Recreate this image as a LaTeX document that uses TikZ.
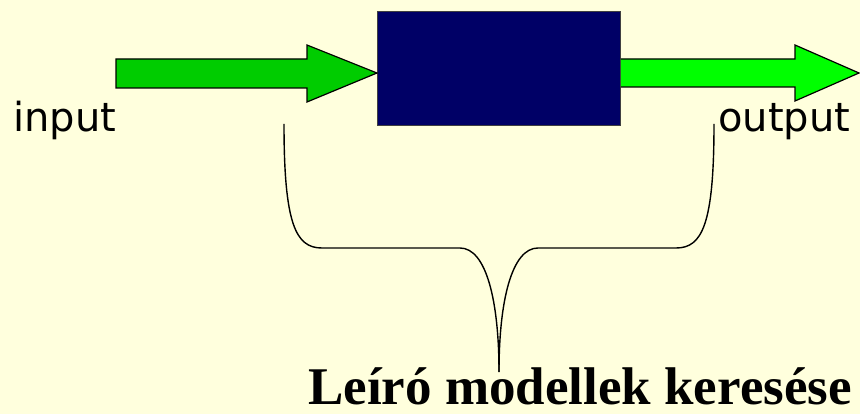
\documentclass[tikz,border=0pt]{standalone}
\usepackage{fontspec}
\setmainfont{Liberation Serif}
\newfontfamily\labfont{DejaVu Sans}
\definecolor{bgcol}{RGB}{255,255,221}
\definecolor{boxcol}{RGB}{0,0,102}
\definecolor{incol}{RGB}{0,204,0}
\definecolor{outcol}{RGB}{0,255,0}
\tikzset{
  lab/.style={font=\labfont\fontsize{40}{48}\selectfont,inner sep=0pt},
  capt/.style={font=\bfseries\fontsize{53}{60}\selectfont,inner sep=0pt},
  blockarrow/.style={draw=black,line width=1.2pt,line join=miter},
  bracel/.style={draw=black,line width=1.4pt},
}
\begin{document}
\begin{tikzpicture}[x=1pt,y=-1pt]
  \useasboundingbox[fill=bgcol] (0,0) rectangle (860,414);
  % system box
  \node[draw=black!75,line width=0.8pt,fill=boxcol,minimum width=243pt,minimum height=114pt,inner sep=0pt,anchor=north west] (model) at (377,11) {};
  % input and output arrows
  \fill[incol,blockarrow] (116,59) -- (307,59) -- (307,45) -- (model.west |- 0,73) -- (307,102) -- (307,88) -- (116,88) -- cycle;
  \fill[outcol,blockarrow] (model.east |- 0,59) -- (795,59) -- (795,45) -- (859,73) -- (795,101) -- (795,87) -- (model.east |- 0,87);
  \node[lab,anchor=base west] (in) at (13,132) {input};
  \node[lab,anchor=base west] (out) at (718,132) {output};
  % brace
  \coordinate (bl) at (284,124);
  \coordinate (br) at (714,124);
  \coordinate (tip) at (499,372);
  \draw[bracel] (bl) .. controls (284,225) and (296,248) .. (322,248) -- (460,248)
    .. controls (486,248) and (499,300) .. (tip);
  \draw[bracel] (br) .. controls (714,225) and (702,248) .. (676,248) -- (538,248)
    .. controls (512,248) and (499,300) .. (tip);
  \node[capt,anchor=base] (capt) at (580,404) {Leíró modellek keresése};
\end{tikzpicture}
\end{document}
